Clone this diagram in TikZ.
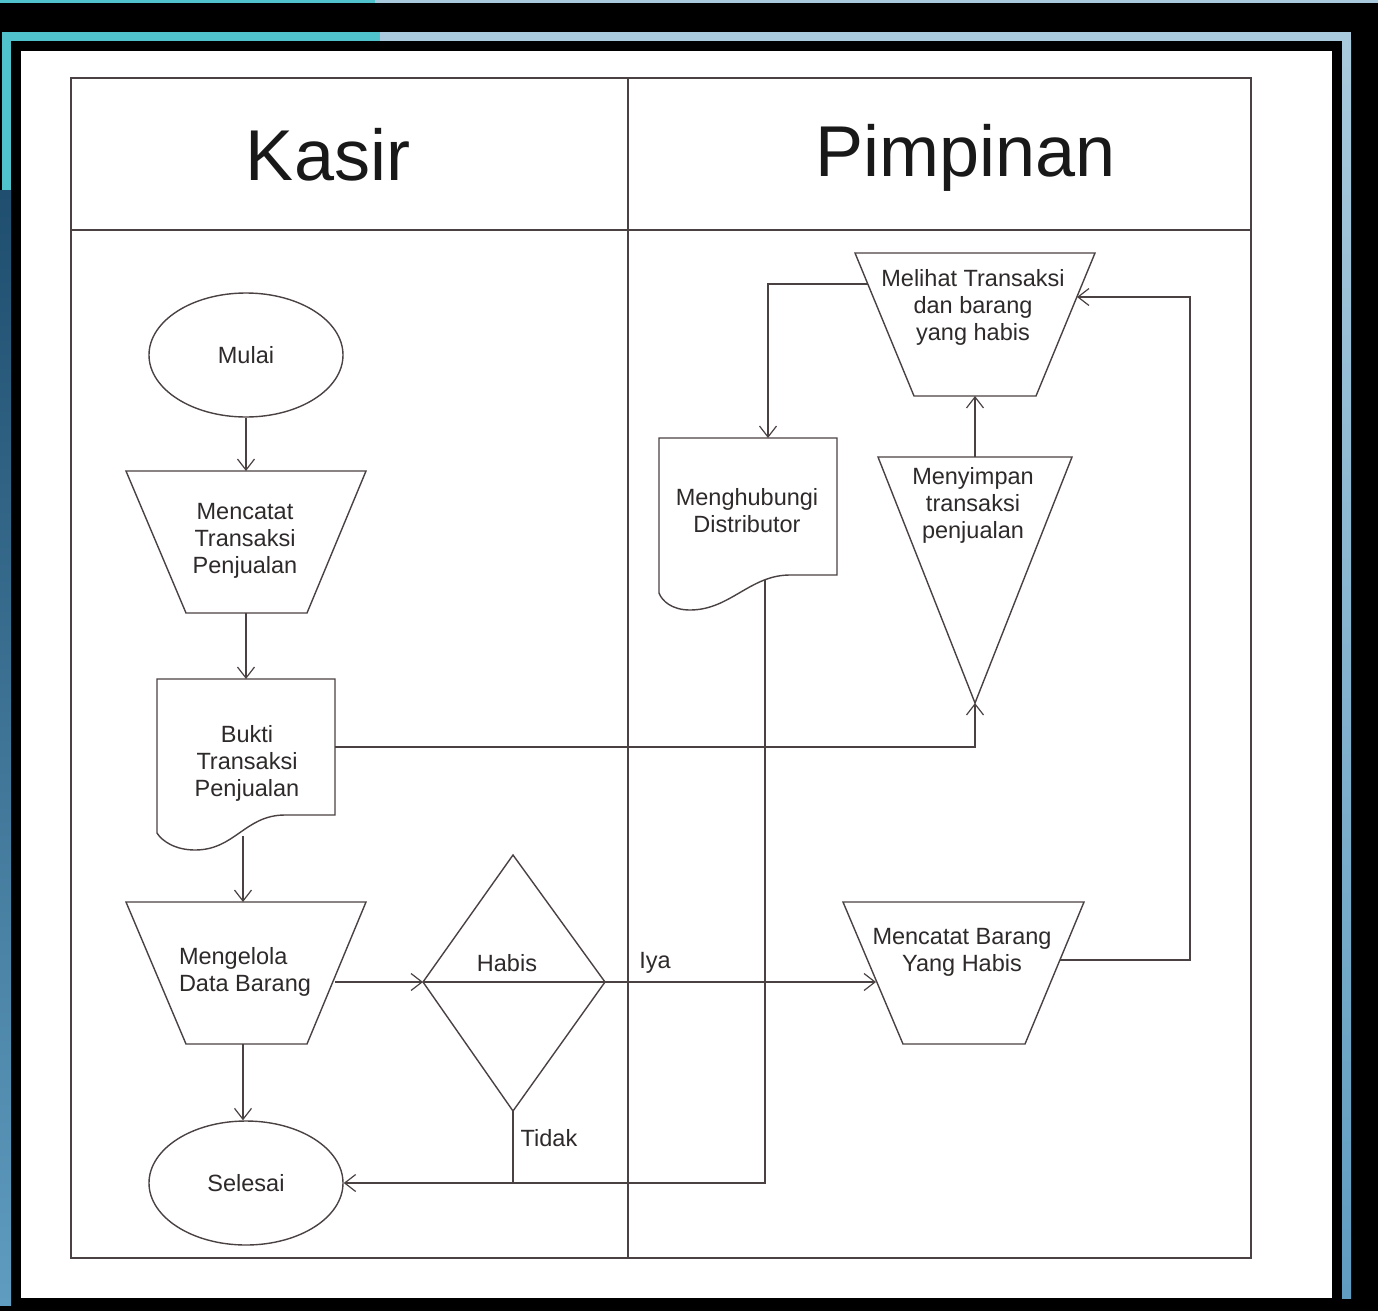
\documentclass[tikz,border=0pt]{standalone}
\usepackage{fontspec}
\setmainfont{Liberation Sans}
\usetikzlibrary{arrows.meta,shapes.geometric}
\definecolor{ln}{HTML}{4A4242}
\definecolor{tx}{HTML}{2E2A2A}
\definecolor{tealA}{HTML}{4FC2CC}
\definecolor{lblue}{HTML}{A9C9DC}
\definecolor{dblue}{HTML}{1F4E6E}
\definecolor{mblue}{HTML}{5F9CC0}
\begin{document}
\begin{tikzpicture}[x=1pt,y=-1pt,
  shp/.style={draw=ln,line width=1.4pt},
  conn/.style={draw=ln,line width=1.4pt},
  arr/.style={conn,-{Straight Barb[length=11pt,width=17pt,line width=1.2pt]}},
  lbl/.style={text=tx,font=\fontsize{23.5}{27}\selectfont,align=center},
  hdr/.style={text=black!90,font=\fontsize{72}{80}\selectfont},
  term/.style={shp,ellipse,minimum width=194pt,minimum height=124pt,inner sep=0pt,text=tx,font=\fontsize{23.5}{27}\selectfont}]
\useasboundingbox (0,0) rectangle (1378,1311);
% background frame
\fill[black] (0,0) rectangle (1378,1311);
\fill[tealA] (0,0) rectangle (375,3);
\fill[lblue] (375,0) rectangle (1378,3);
\fill[tealA] (2,32) rectangle (380,41);
\fill[lblue] (380,32) rectangle (1351,41);
\fill[tealA] (2,32) rectangle (11,190);
\shade[top color=dblue,bottom color=mblue] (0,190) rectangle (11,1305);
\shade[top color=lblue,bottom color=mblue] (1342,41) rectangle (1351,1298);
\fill[white] (21,51) rectangle (1332,1298);
% swimlanes
\draw[shp] (71,78) rectangle (1251,1258);
\draw[shp] (628,78) -- (628,1258);
\draw[shp] (71,230) -- (1251,230);
\node[hdr] (kasir) at (328,155) {Kasir};
\node[hdr] (pimpinan) at (966,158) {Pimpinan};
% Kasir lane
\node[term] (mulai) at (246,355) {Mulai};
\draw[shp] (126,471) -- (366,471) -- (307,613) -- (186,613) -- cycle;
\coordinate (mt-n) at (246,471); \coordinate (mt-s) at (246,613);
\node[lbl] (mt) at (245,541) {Mencatat\\Transaksi\\Penjualan};
\draw[shp] (157,679) -- (335,679) -- (335,815) -- (285,815) .. controls (245,815) and (235,850) .. (195,850) .. controls (175,850) and (162,841) .. (157,833) -- cycle;
\coordinate (bk-n) at (246,679); \coordinate (bk-e) at (335,747); \coordinate (bk-s) at (243,836);
\node[lbl] (bk) at (247,763) {Bukti\\Transaksi\\Penjualan};
\draw[shp] (126,902) -- (366,902) -- (307,1044) -- (186,1044) -- cycle;
\coordinate (mg-n) at (243,902); \coordinate (mg-e) at (335,982); \coordinate (mg-s) at (243,1044);
\node[lbl,align=left] (mg) at (245,972) {Mengelola\\Data Barang};
\node[term] (selesai) at (246,1183) {Selesai};
\draw[shp] (423,982) -- (513,855) -- (605,982) -- (513,1111) -- cycle;
\coordinate (dm-w) at (423,982); \coordinate (dm-e) at (605,982); \coordinate (dm-s) at (513,1111);
\node[lbl] (habis) at (507,963) {Habis};
\node[lbl] (iya) at (655,963) {Iya};
\node[lbl] (tidak) at (549,1138) {Tidak};
% Pimpinan lane
\draw[shp] (855,253) -- (1095,253) -- (1036,396) -- (914,396) -- cycle;
\coordinate (ml-w) at (868,284); \coordinate (ml-e) at (1077,297); \coordinate (ml-s) at (975,396);
\node[lbl] (ml) at (973,307) {Melihat Transaksi\\dan barang\\yang habis};
\draw[shp] (659,438) -- (837,438) -- (837,575) -- (790,575) .. controls (750,575) and (730,610) .. (690,610) .. controls (672,610) and (662,601) .. (659,593) -- cycle;
\coordinate (mh-n) at (768,438); \coordinate (mh-s) at (765,580);
\node[lbl] (mh) at (747,511) {Menghubungi\\Distributor};
\draw[shp] (878,457) -- (1072,457) -- (975,703) -- cycle;
\coordinate (ms-n) at (975,457); \coordinate (ms-s) at (975,703);
\node[lbl] (ms) at (973,505) {Menyimpan\\transaksi\\penjualan};
\draw[shp] (843,902) -- (1084,902) -- (1025,1044) -- (903,1044) -- cycle;
\coordinate (mb-w) at (876,982); \coordinate (mb-e) at (1060,960);
\node[lbl] (mb) at (962,952) {Mencatat Barang\\Yang Habis};
% connectors
\draw[arr] (mulai.south) -- (mt-n);
\draw[arr] (mt-s) -- (bk-n);
\draw[arr] (bk-e) -- (975,747) -- (ms-s);
\draw[arr] (bk-s) -- (mg-n);
\draw[arr] (mg-e) -- (dm-w);
\draw[conn] (dm-w) -- (dm-e);
\draw[arr] (dm-e) -- (mb-w);
\draw[arr] (mg-s) -- (mg-s |- selesai.north);
\draw[conn] (dm-s) -- (513,1183);
\draw[arr] (mh-s) -- (765,1183) -- (selesai.east);
\draw[arr] (ml-w) -- (768,284) -- (mh-n);
\draw[arr] (ms-n) -- (ml-s);
\draw[arr] (mb-e) -- (1190,960) -- (1190,297) -- (ml-e);
\end{tikzpicture}
\end{document}
